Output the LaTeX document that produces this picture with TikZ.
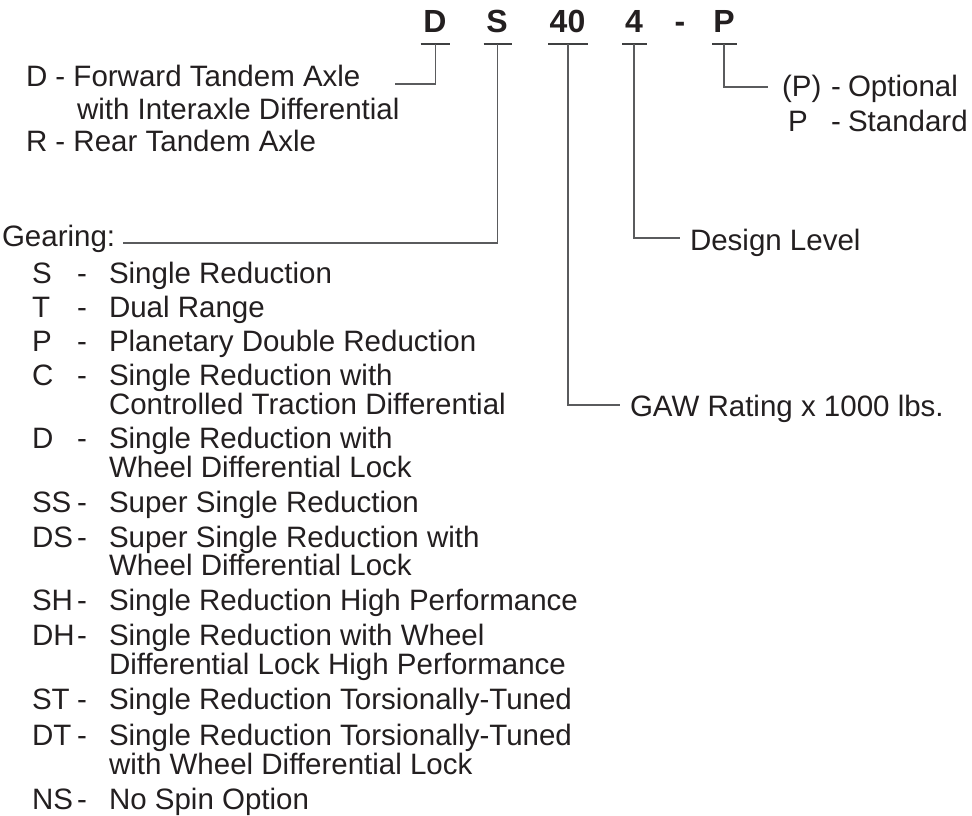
\documentclass[tikz,border=0pt]{standalone}
\usepackage{fontspec}
\setmainfont{Liberation Sans}
\usetikzlibrary{calc}
\definecolor{ink}{HTML}{231F20}
\definecolor{wirec}{HTML}{5A5B5D}
\begin{document}
\begin{tikzpicture}[x=1pt,y=-1pt,
  txt/.style={anchor=base west,inner sep=0pt,outer sep=0pt,text=ink,font=\fontsize{29.5}{34}\selectfont},
  hdr/.style={anchor=base,inner sep=0pt,outer sep=0pt,text=ink,font=\fontsize{32}{36}\selectfont\bfseries},
  wire/.style={draw=wirec,line width=1.3pt},
  uline/.style={draw=wirec!70!black,line width=1.3pt}]
\useasboundingbox[fill=white] (0,0) rectangle (972,816);

% header code
\node[hdr] (hD) at (435,33) {D};
\node[hdr] (hS) at (497,33) {S};
\node[hdr] (h40) at (567.5,33) {40};
\node[hdr] (h4) at (634,33) {4};
\node[hdr] (hdash) at (680,33) {-};
\node[hdr] (hP) at (724,33) {P};

% underline anchor points
\coordinate (uD) at (435.5,44);
\coordinate (uS) at (497.5,44);
\coordinate (u40) at (568,44);
\coordinate (u4) at (634,44);
\coordinate (uP) at (724,44);
\draw[uline] ($(uD)+(-15,0)$) -- ($(uD)+(14,0)$);
\draw[uline] ($(uS)+(-14,0)$) -- ($(uS)+(14,0)$);
\draw[uline] ($(u40)+(-20,0)$) -- ($(u40)+(20,0)$);
\draw[uline] ($(u4)+(-12,0)$) -- ($(u4)+(13,0)$);
\draw[uline] ($(uP)+(-12,0)$) -- ($(uP)+(13,0)$);

% top-left block
\node[txt] (tD1) at (26,87) {D - Forward Tandem Axle};
\node[txt] (tD2) at (77,119) {with Interaxle Differential};
\node[txt] (tR) at (26,151) {R - Rear Tandem Axle};
\coordinate (cD) at (395,84);
\draw[wire] (uD) |- (cD);

% right block
\node[txt] (tP1) at (782,96) {(P)};
\node[txt] (tP1d) at (831,96) {-};
\node[txt] (tP1t) at (848,96) {Optional};
\node[txt] (tP2) at (788,131) {P};
\node[txt] (tP2d) at (831,131) {-};
\node[txt] (tP2t) at (848,131) {Standard};
\coordinate (cP) at (768,87);
\draw[wire] (uP) |- (cP);

\node[txt] (tDL) at (690,250) {Design Level};
\coordinate (c4) at (680,238);
\draw[wire] (u4) |- (c4);

\node[txt] (tGAW) at (630,416) {GAW Rating x 1000 lbs.};
\coordinate (c40) at (620,405);
\draw[wire] (u40) |- (c40);

% gearing list
\node[txt] (tG) at (2,246) {Gearing:};
\coordinate (cS) at (123,243);
\draw[wire] (uS) |- (cS);

\node[txt] (k1) at (32,283) {S};
\node[txt] (d1) at (77,283) {-};
\node[txt] (e1) at (109,283) {Single Reduction};

\node[txt] (k2) at (32,317) {T};
\node[txt] (d2) at (77,317) {-};
\node[txt] (e2) at (109,317) {Dual Range};

\node[txt] (k3) at (32,351) {P};
\node[txt] (d3) at (77,351) {-};
\node[txt] (e3) at (109,351) {Planetary Double Reduction};

\node[txt] (k4) at (32,385) {C};
\node[txt] (d4) at (77,385) {-};
\node[txt] (e4) at (109,385) {Single Reduction with};
\node[txt] (e4b) at (109,414) {Controlled Traction Differential};

\node[txt] (k5) at (32,448) {D};
\node[txt] (d5) at (77,448) {-};
\node[txt] (e5) at (109,448) {Single Reduction with};
\node[txt] (e5b) at (109,477) {Wheel Differential Lock};

\node[txt] (k6) at (32,512) {SS};
\node[txt] (d6) at (77,512) {-};
\node[txt] (e6) at (109,512) {Super Single Reduction};

\node[txt] (k7) at (32,547) {DS};
\node[txt] (d7) at (77,547) {-};
\node[txt] (e7) at (109,547) {Super Single Reduction with};
\node[txt] (e7b) at (109,575) {Wheel Differential Lock};

\node[txt] (k8) at (32,610) {SH};
\node[txt] (d8) at (77,610) {-};
\node[txt] (e8) at (109,610) {Single Reduction High Performance};

\node[txt] (k9) at (32,645) {DH};
\node[txt] (d9) at (77,645) {-};
\node[txt] (e9) at (109,645) {Single Reduction with Wheel};
\node[txt] (e9b) at (109,674) {Differential Lock High Performance};

\node[txt] (k10) at (32,709) {ST};
\node[txt] (d10) at (77,709) {-};
\node[txt] (e10) at (109,709) {Single Reduction Torsionally-Tuned};

\node[txt] (k11) at (32,745) {DT};
\node[txt] (d11) at (77,745) {-};
\node[txt] (e11) at (109,745) {Single Reduction Torsionally-Tuned};
\node[txt] (e11b) at (109,774) {with Wheel Differential Lock};

\node[txt] (k12) at (32,809) {NS};
\node[txt] (d12) at (77,809) {-};
\node[txt] (e12) at (109,809) {No Spin Option};
\end{tikzpicture}
\end{document}
